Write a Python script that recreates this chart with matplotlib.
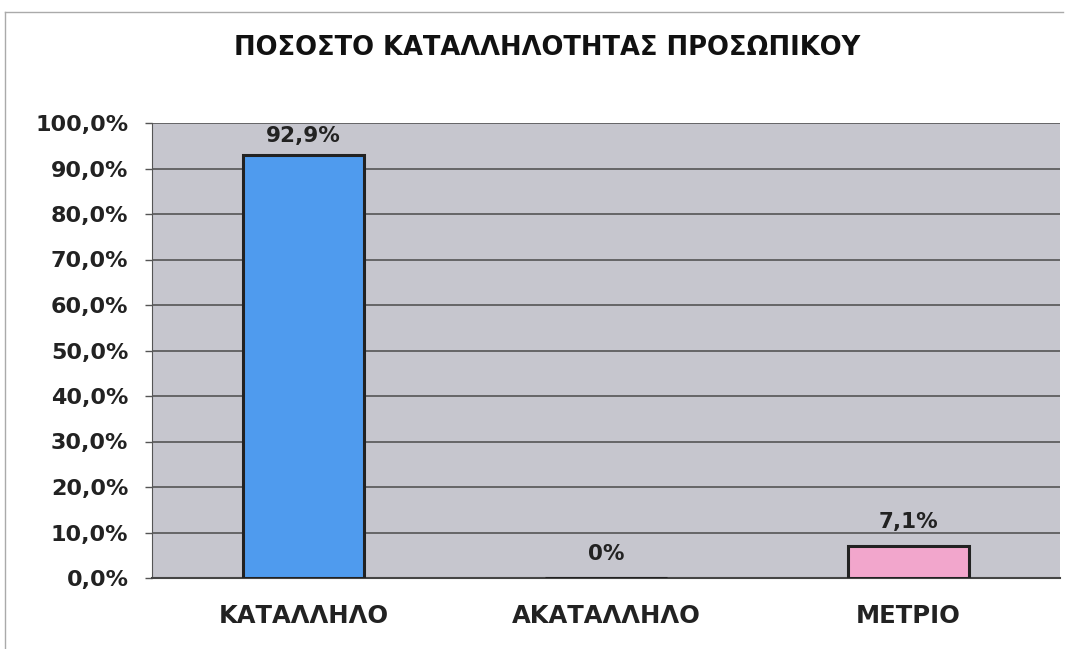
import matplotlib
matplotlib.use("Agg")
import matplotlib.pyplot as plt
from matplotlib.lines import Line2D

title = "ΠΟΣΟΣΤΟ ΚΑΤΑΛΛΗΛΟΤΗΤΑΣ ΠΡΟΣΩΠΙΚΟΥ"
categories = ["ΚΑΤΑΛΛΗΛΟ", "ΑΚΑΤΑΛΛΗΛΟ", "ΜΕΤΡΙΟ"]
values = [92.9, 0.0, 7.1]
value_labels = ["92,9%", "0%", "7,1%"]
bar_colors = ["#4F9BEE", "#4F9BEE", "#F2A6CC"]
yticks = [0, 10, 20, 30, 40, 50, 60, 70, 80, 90, 100]
ytick_labels = ["0,0%", "10,0%", "20,0%", "30,0%", "40,0%", "50,0%",
                "60,0%", "70,0%", "80,0%", "90,0%", "100,0%"]

plt.rcParams['font.family'] = ['DejaVu Sans']

fig = plt.figure(figsize=(10.68, 6.49), dpi=100)
fig.patch.set_facecolor("white")
ax = fig.add_axes([152/1068, 1-578/649, (1060-152)/1068, (578-123)/649])
ax.set_facecolor("#C6C6CE")

x = list(range(len(categories)))
ax.bar(x, values, width=0.4, color=bar_colors, edgecolor="#222222", linewidth=2.2, zorder=3)
ax.set_xlim(-0.5, 2.5)
ax.set_ylim(0, 100)
ax.set_yticks(yticks)
ax.set_yticklabels(ytick_labels, fontsize=16, fontweight="bold", color="#222222")
ax.set_xticks(x)
ax.set_xticklabels(categories, fontsize=17.5, fontweight="bold", color="#222222")
ax.tick_params(axis="y", length=5, width=1, color="#555555", pad=12)
ax.tick_params(axis="x", length=0, pad=19)
ax.yaxis.grid(True, color="#555555", linewidth=1.2, zorder=1)
ax.set_axisbelow(True)
for s in ["top", "right"]:
    ax.spines[s].set_visible(False)
ax.spines["left"].set_color("#555555")
ax.spines["bottom"].set_color("#444444")
ax.spines["bottom"].set_linewidth(1.5)

offsets = [2.0, 3.0, 3.0]
for xi, v, lab, off in zip(x, values, value_labels, offsets):
    ax.text(xi, v + off, lab, ha="center", va="bottom", fontsize=15.5,
            fontweight="bold", color="#222222", zorder=4)

fig.text(547/1068, 1-48/649, title, ha="center", va="center", fontsize=18.5,
         fontweight="bold", color="#111111")

# outer chart frame
fig.add_artist(Line2D([5/1068, 5/1068], [1-12/649, 0.0], color="#aaaaaa", lw=1, transform=fig.transFigure))
fig.add_artist(Line2D([5/1068, 1063/1068], [1-12/649, 1-12/649], color="#aaaaaa", lw=1, transform=fig.transFigure))

fig.savefig("out.png", dpi=100)
